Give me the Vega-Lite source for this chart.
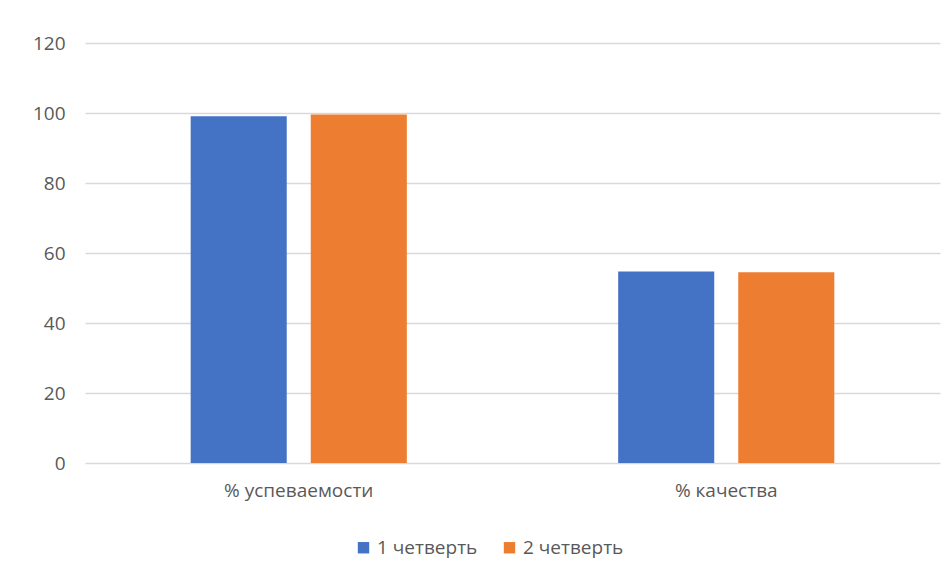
{
  "$schema": "https://vega.github.io/schema/vega-lite/v6.json",
  "width": 855,
  "height": 420,
  "autosize": "none",
  "padding": {"left": 85, "top": 43, "right": 12, "bottom": 118},
  "background": "white",
  "data": {
    "values": [
      {"category": "% успеваемости", "series": "1 четверть", "value": 99.1},
      {"category": "% успеваемости", "series": "2 четверть", "value": 99.6},
      {"category": "% качества", "series": "1 четверть", "value": 54.7},
      {"category": "% качества", "series": "2 четверть", "value": 54.5}
    ]
  },
  "mark": {"type": "bar"},
  "encoding": {
    "x": {
      "field": "category",
      "type": "nominal",
      "sort": ["% успеваемости", "% качества"],
      "scale": {"paddingInner": 0, "paddingOuter": 0},
      "axis": {
        "title": null,
        "labelAngle": 0,
        "ticks": false,
        "domain": false,
        "labelPadding": 18,
        "labelFont": "Open Sans",
        "labelFontSize": 19,
        "labelColor": "#595959"
      }
    },
    "xOffset": {
      "field": "series",
      "type": "nominal",
      "scale": {"paddingInner": 0.2, "paddingOuter": 0.88}
    },
    "y": {
      "field": "value",
      "type": "quantitative",
      "scale": {"domain": [0, 120]},
      "axis": {
        "title": null,
        "values": [0, 20, 40, 60, 80, 100, 120],
        "ticks": false,
        "domain": false,
        "grid": true,
        "gridColor": "#d9d9d9",
        "gridWidth": 1.3,
        "labelPadding": 20,
        "labelFont": "Open Sans",
        "labelFontSize": 19,
        "labelColor": "#595959"
      }
    },
    "color": {
      "field": "series",
      "type": "nominal",
      "scale": {"domain": ["1 четверть", "2 четверть"], "range": ["#4472C4", "#ED7D31"]},
      "legend": {
        "title": null,
        "orient": "none",
        "legendX": 269,
        "legendY": 495,
        "direction": "horizontal",
        "symbolType": "square",
        "symbolSize": 130,
        "symbolStrokeWidth": 0,
        "labelFont": "Open Sans",
        "labelFontSize": 19,
        "labelColor": "#595959",
        "labelOffset": 4,
        "columnPadding": 22
      }
    }
  },
  "config": {
    "view": {"stroke": null}
  }
}
